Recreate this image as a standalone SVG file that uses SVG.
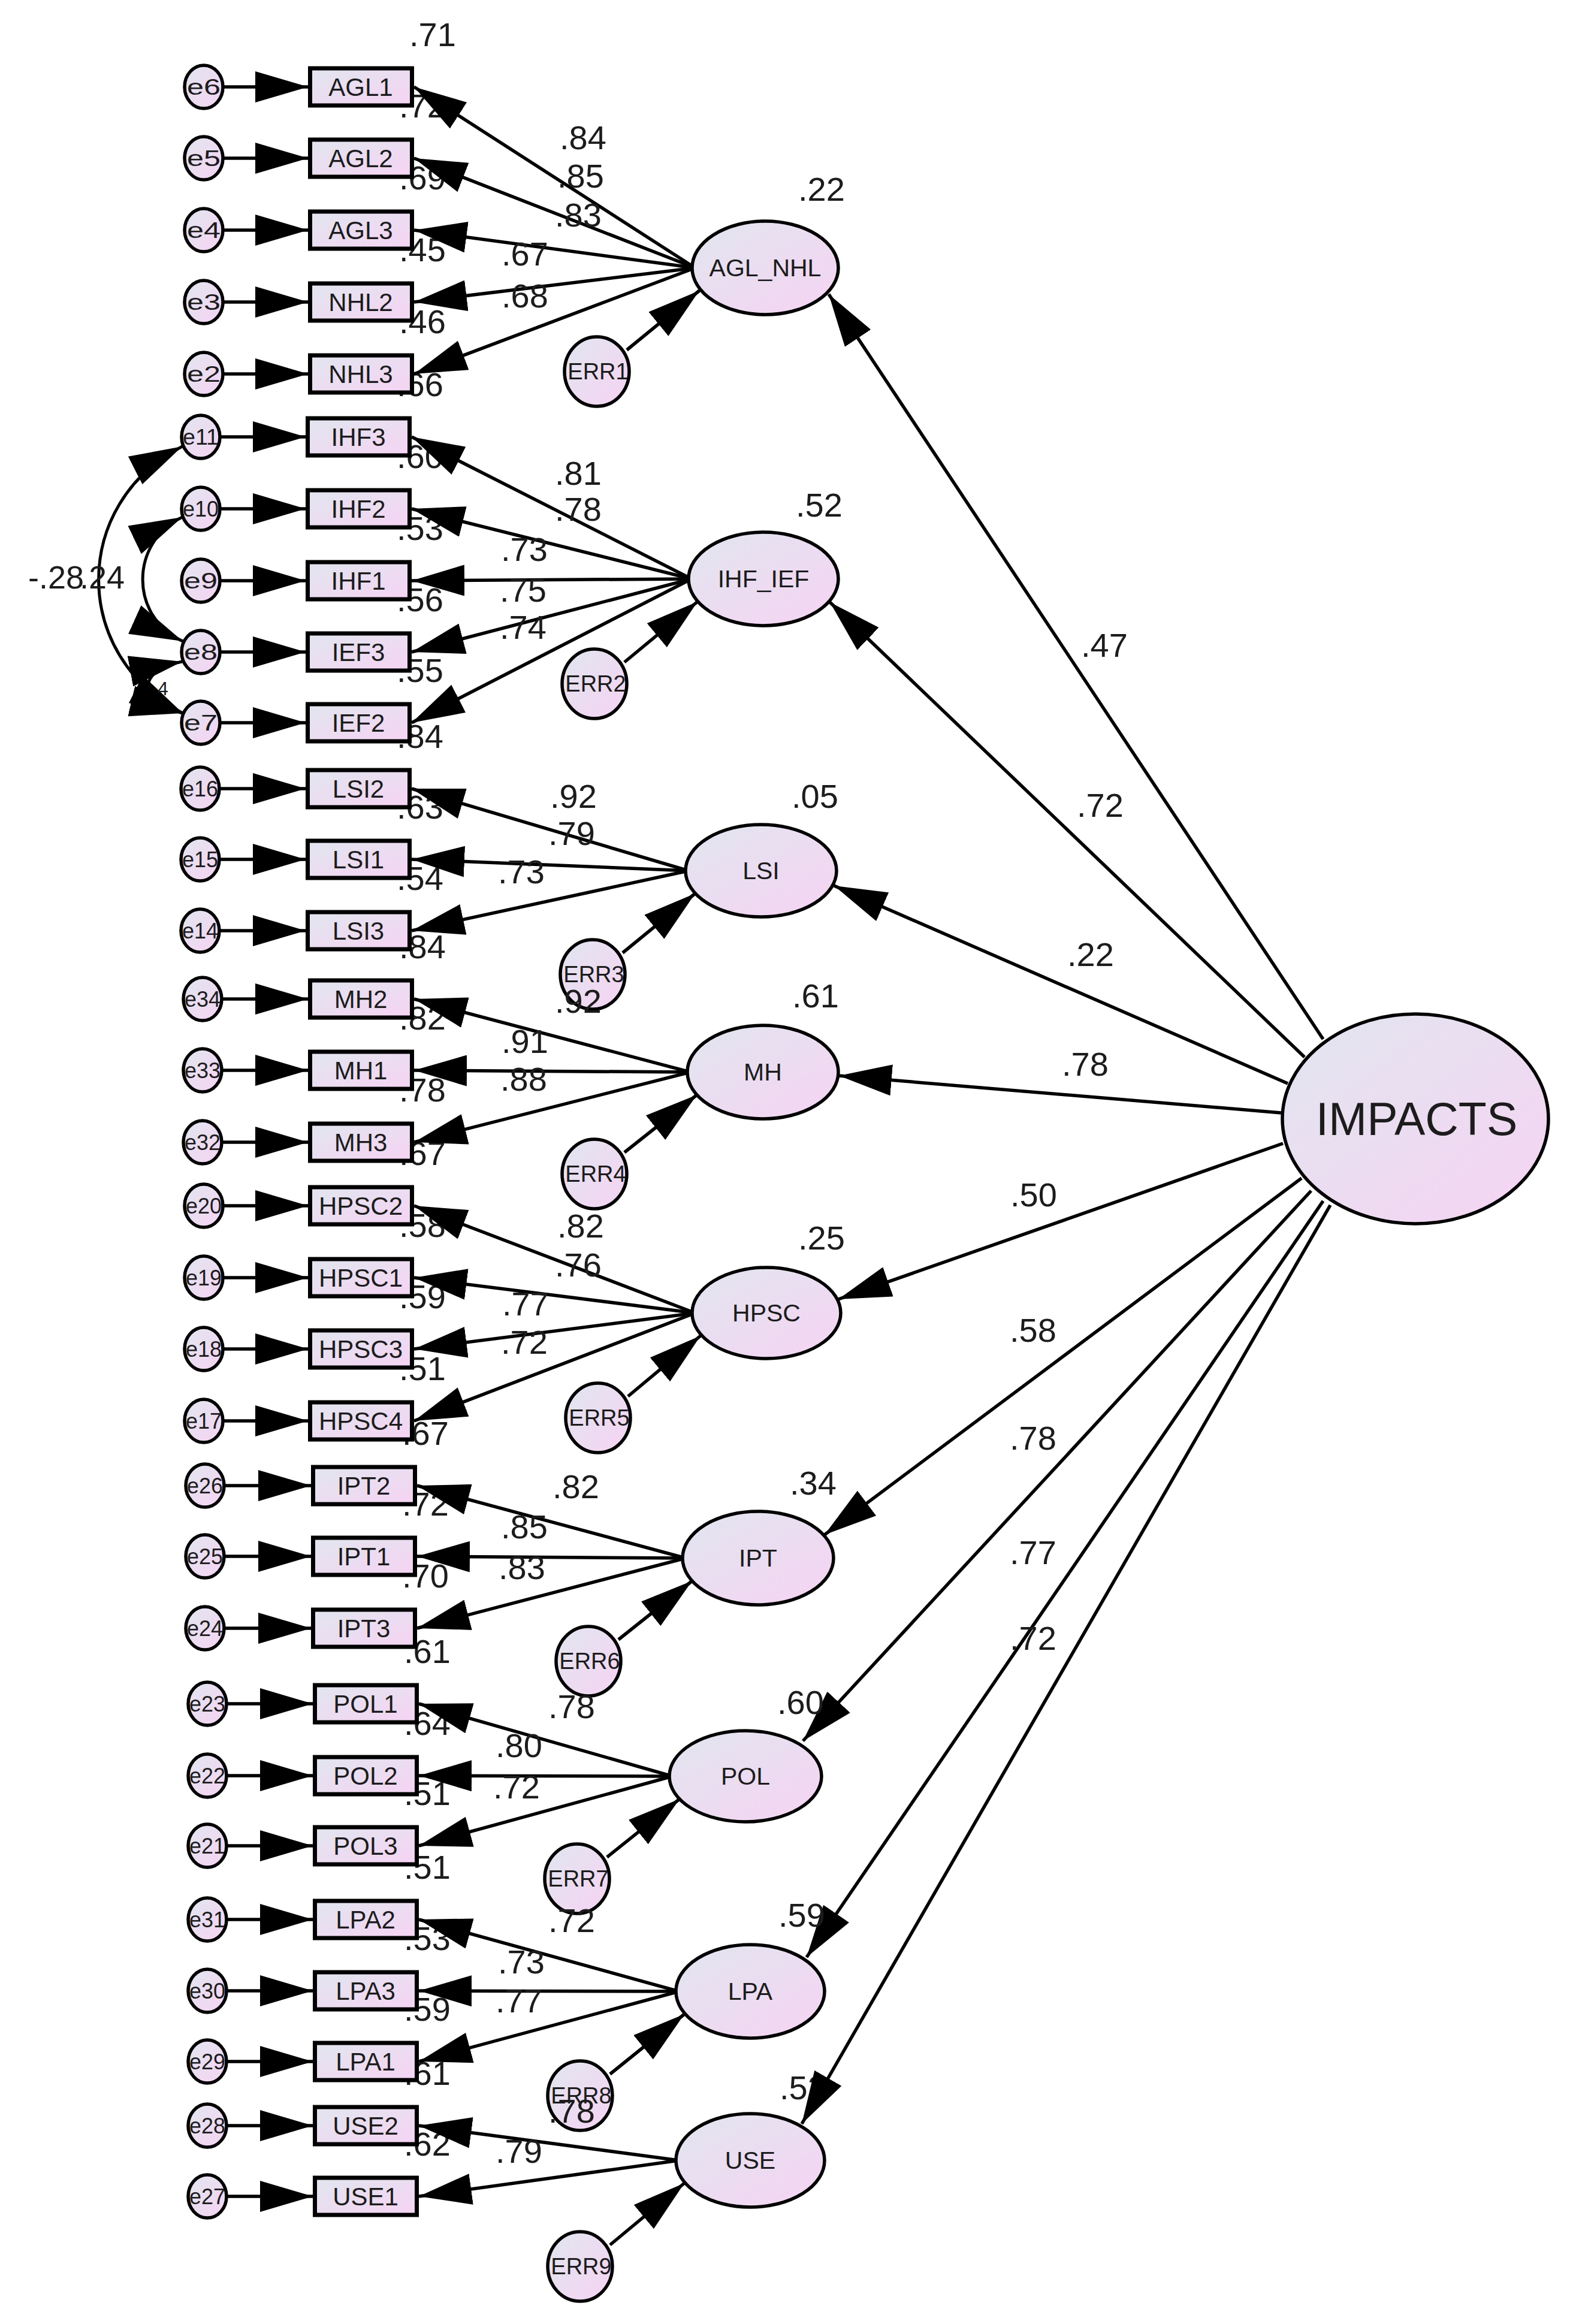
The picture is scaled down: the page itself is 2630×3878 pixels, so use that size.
<svg xmlns="http://www.w3.org/2000/svg" width="2630" height="3878" viewBox="0 0 2630 3878">
<defs>
<linearGradient id="g" x1="0" y1="0" x2="1" y2="1"><stop offset="0" stop-color="#e1e6ef"/><stop offset="1" stop-color="#f6d3f3"/></linearGradient>
<marker id="ah" markerUnits="userSpaceOnUse" markerWidth="90" markerHeight="52" refX="88" refY="26" orient="auto-start-reverse"><path d="M0,0 L88,26 L0,52 z" fill="#000"/></marker>
<style>
.n{fill:url(#g);stroke:#000;stroke-width:5.5}
.b{fill:url(#g);stroke:#000;stroke-width:7}
.c line,.c path{stroke:#000;stroke-width:5.5;fill:none;marker-end:url(#ah)}
.c .s{stroke-width:5.5}
.c .cv{marker-start:url(#ah);stroke-width:5}
text{font-family:"Liberation Sans",Arial,sans-serif;fill:#1c1c1c;text-anchor:middle}
.num{font-size:56px}
.bl{font-size:42px}
.el{font-size:37px}
.fl{font-size:41px}
.er{font-size:38px}
</style>
</defs>
<rect width="2630" height="3878" fill="#fff"/>
<g id="r2-labels" class="num">
<text x="722" y="77">.71</text><text x="705" y="196">.72</text><text x="705" y="316">.69</text><text x="705" y="436">.45</text><text x="705" y="556">.46</text>
<text x="701" y="661">.66</text><text x="701" y="781">.60</text><text x="701" y="901">.53</text><text x="701" y="1020">.56</text><text x="701" y="1138">.55</text>
<text x="701" y="1248">.84</text><text x="701" y="1366">.63</text><text x="701" y="1485">.54</text>
<text x="705" y="1599">.84</text><text x="705" y="1718">.82</text><text x="705" y="1838">.78</text>
<text x="705" y="1944">.67</text><text x="705" y="2064">.58</text><text x="705" y="2183">.59</text><text x="705" y="2303">.51</text>
<text x="710" y="2411">.67</text><text x="710" y="2529">.72</text><text x="710" y="2649">.70</text>
<text x="713" y="2775">.61</text><text x="713" y="2895">.64</text><text x="713" y="3012">.51</text>
<text x="713" y="3135">.51</text><text x="713" y="3254">.53</text><text x="713" y="3372">.59</text>
<text x="713" y="3479">.61</text><text x="713" y="3597">.62</text>
<text x="1340" y="3503">.52</text>
</g>
<g id="connectors" class="c">
<line x1="373" y1="145" x2="514" y2="145"/><line x1="373" y1="264" x2="514" y2="264"/><line x1="373" y1="384" x2="514" y2="384"/><line x1="373" y1="504" x2="514" y2="504"/><line x1="373" y1="624" x2="514" y2="624"/>
<line x1="368" y1="729" x2="510" y2="729"/><line x1="368" y1="849" x2="510" y2="849"/><line x1="368" y1="969" x2="510" y2="969"/><line x1="368" y1="1088" x2="510" y2="1088"/><line x1="368" y1="1206" x2="510" y2="1206"/>
<line x1="367" y1="1316" x2="510" y2="1316"/><line x1="367" y1="1434" x2="510" y2="1434"/><line x1="367" y1="1553" x2="510" y2="1553"/>
<line x1="371" y1="1667" x2="514" y2="1667"/><line x1="371" y1="1786" x2="514" y2="1786"/><line x1="371" y1="1906" x2="514" y2="1906"/>
<line x1="373" y1="2012" x2="514" y2="2012"/><line x1="373" y1="2132" x2="514" y2="2132"/><line x1="373" y1="2251" x2="514" y2="2251"/><line x1="373" y1="2371" x2="514" y2="2371"/>
<line x1="375" y1="2479" x2="519" y2="2479"/><line x1="375" y1="2597" x2="519" y2="2597"/><line x1="375" y1="2717" x2="519" y2="2717"/>
<line x1="379" y1="2843" x2="522" y2="2843"/><line x1="379" y1="2963" x2="522" y2="2963"/><line x1="379" y1="3080" x2="522" y2="3080"/>
<line x1="379" y1="3203" x2="522" y2="3203"/><line x1="379" y1="3322" x2="522" y2="3322"/><line x1="379" y1="3440" x2="522" y2="3440"/>
<line x1="379" y1="3547" x2="522" y2="3547"/><line x1="379" y1="3665" x2="522" y2="3665"/>
<line x1="1160" y1="447" x2="691" y2="145"/><line x1="1160" y1="447" x2="691" y2="264"/><line x1="1160" y1="447" x2="691" y2="384"/><line x1="1160" y1="447" x2="691" y2="504"/><line x1="1160" y1="447" x2="691" y2="624"/>
<line x1="1154" y1="966" x2="687" y2="729"/><line x1="1154" y1="966" x2="687" y2="849"/><line x1="1154" y1="966" x2="687" y2="969"/><line x1="1154" y1="966" x2="687" y2="1088"/><line x1="1154" y1="966" x2="687" y2="1206"/>
<line x1="1149" y1="1453" x2="687" y2="1316"/><line x1="1149" y1="1453" x2="687" y2="1434"/><line x1="1149" y1="1453" x2="687" y2="1553"/>
<line x1="1152" y1="1789" x2="691" y2="1667"/><line x1="1152" y1="1789" x2="691" y2="1786"/><line x1="1152" y1="1789" x2="691" y2="1906"/>
<line x1="1160" y1="2191" x2="691" y2="2012"/><line x1="1160" y1="2191" x2="691" y2="2132"/><line x1="1160" y1="2191" x2="691" y2="2251"/><line x1="1160" y1="2191" x2="691" y2="2371"/>
<line x1="1144" y1="2600" x2="696" y2="2479"/><line x1="1144" y1="2600" x2="696" y2="2597"/><line x1="1144" y1="2600" x2="696" y2="2717"/>
<line x1="1122" y1="2964" x2="699" y2="2843"/><line x1="1122" y1="2964" x2="699" y2="2963"/><line x1="1122" y1="2964" x2="699" y2="3080"/>
<line x1="1133" y1="3323" x2="699" y2="3203"/><line x1="1133" y1="3323" x2="699" y2="3322"/><line x1="1133" y1="3323" x2="699" y2="3440"/>
<line x1="1133" y1="3605" x2="699" y2="3547"/><line x1="1133" y1="3605" x2="699" y2="3665"/>
<line x1="1046" y1="584" x2="1167" y2="485"/><line x1="1042" y1="1105" x2="1164" y2="1004"/><line x1="1039" y1="1590" x2="1160" y2="1491"/>
<line x1="1042" y1="1923" x2="1163" y2="1827"/><line x1="1048" y1="2330" x2="1169" y2="2229"/><line x1="1032" y1="2736" x2="1155" y2="2638"/>
<line x1="1013" y1="3099" x2="1134" y2="3002"/><line x1="1018" y1="3461" x2="1142" y2="3361"/><line x1="1018" y1="3746" x2="1142" y2="3643"/>
<line class="s" x1="2208" y1="1734" x2="1383" y2="491"/><line class="s" x1="2177" y1="1764" x2="1385" y2="1005"/><line class="s" x1="2149" y1="1808" x2="1392" y2="1478"/>
<line class="s" x1="2138" y1="1857" x2="1400" y2="1795"/><line class="s" x1="2141" y1="1908" x2="1399" y2="2168"/><line class="s" x1="2172" y1="1966" x2="1376" y2="2561"/>
<line class="s" x1="2188" y1="1987" x2="1340" y2="2905"/><line class="s" x1="2208" y1="2004" x2="1346" y2="3266"/><line class="s" x1="2220" y1="2011" x2="1338" y2="3544"/>
<path class="cv" d="M304,745 C118,840 118,1095 305,1190"/>
<path class="cv" d="M304,863 C216,905 216,1030 305,1070"/>
<path class="cv" d="M304,1104 C228,1118 228,1172 305,1190"/>
</g>
<g id="e-nodes">
<g id="e6"><ellipse class="n" cx="340" cy="145" rx="32" ry="36"/><text class="el" x="340" y="158" textLength="56" lengthAdjust="spacingAndGlyphs">e6</text></g>
<g id="e5"><ellipse class="n" cx="340" cy="264" rx="32" ry="36"/><text class="el" x="340" y="277" textLength="56" lengthAdjust="spacingAndGlyphs">e5</text></g>
<g id="e4"><ellipse class="n" cx="340" cy="384" rx="32" ry="36"/><text class="el" x="340" y="397" textLength="56" lengthAdjust="spacingAndGlyphs">e4</text></g>
<g id="e3"><ellipse class="n" cx="340" cy="504" rx="32" ry="36"/><text class="el" x="340" y="517" textLength="56" lengthAdjust="spacingAndGlyphs">e3</text></g>
<g id="e2"><ellipse class="n" cx="340" cy="624" rx="32" ry="36"/><text class="el" x="340" y="637" textLength="56" lengthAdjust="spacingAndGlyphs">e2</text></g>
<g id="e11"><ellipse class="n" cx="335" cy="729" rx="32" ry="36"/><text class="el" x="335" y="742" textLength="60" lengthAdjust="spacingAndGlyphs">e11</text></g>
<g id="e10"><ellipse class="n" cx="335" cy="849" rx="32" ry="36"/><text class="el" x="335" y="862" textLength="60" lengthAdjust="spacingAndGlyphs">e10</text></g>
<g id="e9"><ellipse class="n" cx="335" cy="969" rx="32" ry="36"/><text class="el" x="335" y="982" textLength="56" lengthAdjust="spacingAndGlyphs">e9</text></g>
<g id="e8"><ellipse class="n" cx="335" cy="1088" rx="32" ry="36"/><text class="el" x="335" y="1101" textLength="56" lengthAdjust="spacingAndGlyphs">e8</text></g>
<g id="e7"><ellipse class="n" cx="335" cy="1206" rx="32" ry="36"/><text class="el" x="335" y="1219" textLength="56" lengthAdjust="spacingAndGlyphs">e7</text></g>
<g id="e16"><ellipse class="n" cx="334" cy="1316" rx="32" ry="36"/><text class="el" x="334" y="1329" textLength="60" lengthAdjust="spacingAndGlyphs">e16</text></g>
<g id="e15"><ellipse class="n" cx="334" cy="1434" rx="32" ry="36"/><text class="el" x="334" y="1447" textLength="60" lengthAdjust="spacingAndGlyphs">e15</text></g>
<g id="e14"><ellipse class="n" cx="334" cy="1553" rx="32" ry="36"/><text class="el" x="334" y="1566" textLength="60" lengthAdjust="spacingAndGlyphs">e14</text></g>
<g id="e34"><ellipse class="n" cx="338" cy="1667" rx="32" ry="36"/><text class="el" x="338" y="1680" textLength="60" lengthAdjust="spacingAndGlyphs">e34</text></g>
<g id="e33"><ellipse class="n" cx="338" cy="1786" rx="32" ry="36"/><text class="el" x="338" y="1799" textLength="60" lengthAdjust="spacingAndGlyphs">e33</text></g>
<g id="e32"><ellipse class="n" cx="338" cy="1906" rx="32" ry="36"/><text class="el" x="338" y="1919" textLength="60" lengthAdjust="spacingAndGlyphs">e32</text></g>
<g id="e20"><ellipse class="n" cx="340" cy="2012" rx="32" ry="36"/><text class="el" x="340" y="2025" textLength="60" lengthAdjust="spacingAndGlyphs">e20</text></g>
<g id="e19"><ellipse class="n" cx="340" cy="2132" rx="32" ry="36"/><text class="el" x="340" y="2145" textLength="60" lengthAdjust="spacingAndGlyphs">e19</text></g>
<g id="e18"><ellipse class="n" cx="340" cy="2251" rx="32" ry="36"/><text class="el" x="340" y="2264" textLength="60" lengthAdjust="spacingAndGlyphs">e18</text></g>
<g id="e17"><ellipse class="n" cx="340" cy="2371" rx="32" ry="36"/><text class="el" x="340" y="2384" textLength="60" lengthAdjust="spacingAndGlyphs">e17</text></g>
<g id="e26"><ellipse class="n" cx="342" cy="2479" rx="32" ry="36"/><text class="el" x="342" y="2492" textLength="60" lengthAdjust="spacingAndGlyphs">e26</text></g>
<g id="e25"><ellipse class="n" cx="342" cy="2597" rx="32" ry="36"/><text class="el" x="342" y="2610" textLength="60" lengthAdjust="spacingAndGlyphs">e25</text></g>
<g id="e24"><ellipse class="n" cx="342" cy="2717" rx="32" ry="36"/><text class="el" x="342" y="2730" textLength="60" lengthAdjust="spacingAndGlyphs">e24</text></g>
<g id="e23"><ellipse class="n" cx="346" cy="2843" rx="32" ry="36"/><text class="el" x="346" y="2856" textLength="60" lengthAdjust="spacingAndGlyphs">e23</text></g>
<g id="e22"><ellipse class="n" cx="346" cy="2963" rx="32" ry="36"/><text class="el" x="346" y="2976" textLength="60" lengthAdjust="spacingAndGlyphs">e22</text></g>
<g id="e21"><ellipse class="n" cx="346" cy="3080" rx="32" ry="36"/><text class="el" x="346" y="3093" textLength="60" lengthAdjust="spacingAndGlyphs">e21</text></g>
<g id="e31"><ellipse class="n" cx="346" cy="3203" rx="32" ry="36"/><text class="el" x="346" y="3216" textLength="60" lengthAdjust="spacingAndGlyphs">e31</text></g>
<g id="e30"><ellipse class="n" cx="346" cy="3322" rx="32" ry="36"/><text class="el" x="346" y="3335" textLength="60" lengthAdjust="spacingAndGlyphs">e30</text></g>
<g id="e29"><ellipse class="n" cx="346" cy="3440" rx="32" ry="36"/><text class="el" x="346" y="3453" textLength="60" lengthAdjust="spacingAndGlyphs">e29</text></g>
<g id="e28"><ellipse class="n" cx="346" cy="3547" rx="32" ry="36"/><text class="el" x="346" y="3560" textLength="60" lengthAdjust="spacingAndGlyphs">e28</text></g>
<g id="e27"><ellipse class="n" cx="346" cy="3665" rx="32" ry="36"/><text class="el" x="346" y="3678" textLength="60" lengthAdjust="spacingAndGlyphs">e27</text></g>
</g>
<g id="indicators" class="bl">
<g id="AGL1"><rect class="b" x="517.5" y="114" width="170" height="62"/><text x="602" y="160">AGL1</text></g>
<g id="AGL2"><rect class="b" x="517.5" y="233" width="170" height="62"/><text x="602" y="279">AGL2</text></g>
<g id="AGL3"><rect class="b" x="517.5" y="353" width="170" height="62"/><text x="602" y="399">AGL3</text></g>
<g id="NHL2"><rect class="b" x="517.5" y="473" width="170" height="62"/><text x="602" y="519">NHL2</text></g>
<g id="NHL3"><rect class="b" x="517.5" y="593" width="170" height="62"/><text x="602" y="639">NHL3</text></g>
<g id="IHF3"><rect class="b" x="513.5" y="698" width="170" height="62"/><text x="598" y="744">IHF3</text></g>
<g id="IHF2"><rect class="b" x="513.5" y="818" width="170" height="62"/><text x="598" y="864">IHF2</text></g>
<g id="IHF1"><rect class="b" x="513.5" y="938" width="170" height="62"/><text x="598" y="984">IHF1</text></g>
<g id="IEF3"><rect class="b" x="513.5" y="1057" width="170" height="62"/><text x="598" y="1103">IEF3</text></g>
<g id="IEF2"><rect class="b" x="513.5" y="1175" width="170" height="62"/><text x="598" y="1221">IEF2</text></g>
<g id="LSI2"><rect class="b" x="513.5" y="1285" width="170" height="62"/><text x="598" y="1331">LSI2</text></g>
<g id="LSI1"><rect class="b" x="513.5" y="1403" width="170" height="62"/><text x="598" y="1449">LSI1</text></g>
<g id="LSI3"><rect class="b" x="513.5" y="1522" width="170" height="62"/><text x="598" y="1568">LSI3</text></g>
<g id="MH2"><rect class="b" x="517.5" y="1636" width="170" height="62"/><text x="602" y="1682">MH2</text></g>
<g id="MH1"><rect class="b" x="517.5" y="1755" width="170" height="62"/><text x="602" y="1801">MH1</text></g>
<g id="MH3"><rect class="b" x="517.5" y="1875" width="170" height="62"/><text x="602" y="1921">MH3</text></g>
<g id="HPSC2"><rect class="b" x="517.5" y="1981" width="170" height="62"/><text x="602" y="2027">HPSC2</text></g>
<g id="HPSC1"><rect class="b" x="517.5" y="2101" width="170" height="62"/><text x="602" y="2147">HPSC1</text></g>
<g id="HPSC3"><rect class="b" x="517.5" y="2220" width="170" height="62"/><text x="602" y="2266">HPSC3</text></g>
<g id="HPSC4"><rect class="b" x="517.5" y="2340" width="170" height="62"/><text x="602" y="2386">HPSC4</text></g>
<g id="IPT2"><rect class="b" x="522.5" y="2448" width="170" height="62"/><text x="607" y="2494">IPT2</text></g>
<g id="IPT1"><rect class="b" x="522.5" y="2566" width="170" height="62"/><text x="607" y="2612">IPT1</text></g>
<g id="IPT3"><rect class="b" x="522.5" y="2686" width="170" height="62"/><text x="607" y="2732">IPT3</text></g>
<g id="POL1"><rect class="b" x="525.5" y="2812" width="170" height="62"/><text x="610" y="2858">POL1</text></g>
<g id="POL2"><rect class="b" x="525.5" y="2932" width="170" height="62"/><text x="610" y="2978">POL2</text></g>
<g id="POL3"><rect class="b" x="525.5" y="3049" width="170" height="62"/><text x="610" y="3095">POL3</text></g>
<g id="LPA2"><rect class="b" x="525.5" y="3172" width="170" height="62"/><text x="610" y="3218">LPA2</text></g>
<g id="LPA3"><rect class="b" x="525.5" y="3291" width="170" height="62"/><text x="610" y="3337">LPA3</text></g>
<g id="LPA1"><rect class="b" x="525.5" y="3409" width="170" height="62"/><text x="610" y="3455">LPA1</text></g>
<g id="USE2"><rect class="b" x="525.5" y="3516" width="170" height="62"/><text x="610" y="3562">USE2</text></g>
<g id="USE1"><rect class="b" x="525.5" y="3634" width="170" height="62"/><text x="610" y="3680">USE1</text></g>
</g>
<g id="factors" class="fl">
<g id="AGL_NHL"><ellipse class="n" cx="1277" cy="447" rx="122" ry="78"/><text x="1277" y="461">AGL_NHL</text></g>
<g id="IHF_IEF"><ellipse class="n" cx="1274" cy="966" rx="125" ry="78"/><text x="1274" y="980">IHF_IEF</text></g>
<g id="LSI"><ellipse class="n" cx="1270" cy="1453" rx="126" ry="77"/><text x="1270" y="1467">LSI</text></g>
<g id="MH"><ellipse class="n" cx="1273" cy="1789" rx="126" ry="78"/><text x="1273" y="1803">MH</text></g>
<g id="HPSC"><ellipse class="n" cx="1279" cy="2191" rx="124" ry="76"/><text x="1279" y="2205">HPSC</text></g>
<g id="IPT"><ellipse class="n" cx="1265" cy="2600" rx="126" ry="78"/><text x="1265" y="2614">IPT</text></g>
<g id="POL"><ellipse class="n" cx="1244" cy="2964" rx="127" ry="76"/><text x="1244" y="2978">POL</text></g>
<g id="LPA"><ellipse class="n" cx="1252" cy="3323" rx="124" ry="78"/><text x="1252" y="3337">LPA</text></g>
<g id="USE"><ellipse class="n" cx="1252" cy="3605" rx="124" ry="78"/><text x="1252" y="3619">USE</text></g>
<g id="IMPACTS"><ellipse class="n" cx="2362" cy="1867" rx="222" ry="175"/><text x="2364" y="1894" style="font-size:77px">IMPACTS</text></g>
</g>
<g id="disturbances" class="er">
<g id="ERR1"><ellipse class="n" cx="996" cy="620" rx="54" ry="58"/><text x="998" y="633">ERR1</text></g>
<g id="ERR2"><ellipse class="n" cx="992" cy="1141" rx="54" ry="58"/><text x="994" y="1154">ERR2</text></g>
<g id="ERR3"><ellipse class="n" cx="989" cy="1626" rx="54" ry="58"/><text x="991" y="1639">ERR3</text></g>
<g id="ERR4"><ellipse class="n" cx="992" cy="1959" rx="54" ry="58"/><text x="994" y="1972">ERR4</text></g>
<g id="ERR5"><ellipse class="n" cx="998" cy="2366" rx="54" ry="58"/><text x="1000" y="2379">ERR5</text></g>
<g id="ERR6"><ellipse class="n" cx="982" cy="2772" rx="54" ry="58"/><text x="984" y="2785">ERR6</text></g>
<g id="ERR7"><ellipse class="n" cx="963" cy="3135" rx="54" ry="58"/><text x="965" y="3148">ERR7</text></g>
<g id="ERR8"><ellipse class="n" cx="968" cy="3497" rx="54" ry="58"/><text x="970" y="3510">ERR8</text></g>
<g id="ERR9"><ellipse class="n" cx="968" cy="3782" rx="54" ry="58"/><text x="970" y="3795">ERR9</text></g>
</g>
<g id="labels" class="num">
<text x="973" y="249">.84</text><text x="969" y="313">.85</text><text x="965" y="378">.83</text><text x="876" y="443">.67</text><text x="876" y="513">.68</text>
<text x="965" y="809">.81</text><text x="965" y="869">.78</text><text x="875" y="936">.73</text><text x="873" y="1004">.75</text><text x="873" y="1066">.74</text>
<text x="957" y="1348">.92</text><text x="954" y="1410">.79</text><text x="870" y="1474">.73</text>
<text x="965" y="1690">.92</text><text x="876" y="1757">.91</text><text x="874" y="1820">.88</text>
<text x="969" y="2065">.82</text><text x="965" y="2130">.76</text><text x="877" y="2195">.77</text><text x="875" y="2259">.72</text>
<text x="961" y="2500">.82</text><text x="875" y="2567">.85</text><text x="871" y="2635">.83</text>
<text x="954" y="2867">.78</text><text x="866" y="2932">.80</text><text x="862" y="3001">.72</text>
<text x="954" y="3224">.72</text><text x="870" y="3293">.73</text><text x="866" y="3358">.77</text>
<text x="954" y="3542">.78</text><text x="866" y="3609">.79</text>
<text x="1371" y="335">.22</text><text x="1367" y="862">.52</text><text x="1360" y="1348">.05</text><text x="1361" y="1681">.61</text><text x="1371" y="2085">.25</text>
<text x="1357" y="2494">.34</text><text x="1336" y="2860">.60</text><text x="1338" y="3215">.59</text>
<text x="1843" y="1096">.47</text><text x="1836" y="1363">.72</text><text x="1820" y="1612">.22</text><text x="1811" y="1795">.78</text><text x="1725" y="2013">.50</text>
<text x="1724" y="2239">.58</text><text x="1724" y="2419">.78</text><text x="1724" y="2610">.77</text><text x="1724" y="2753">.72</text>
<text x="140" y="982" style="text-anchor:end;font-size:54px">-.28</text><text x="133" y="982" style="text-anchor:start;font-size:54px">.24</text>
<text x="272" y="1160" style="font-size:32px">4</text>
</g>
</svg>
